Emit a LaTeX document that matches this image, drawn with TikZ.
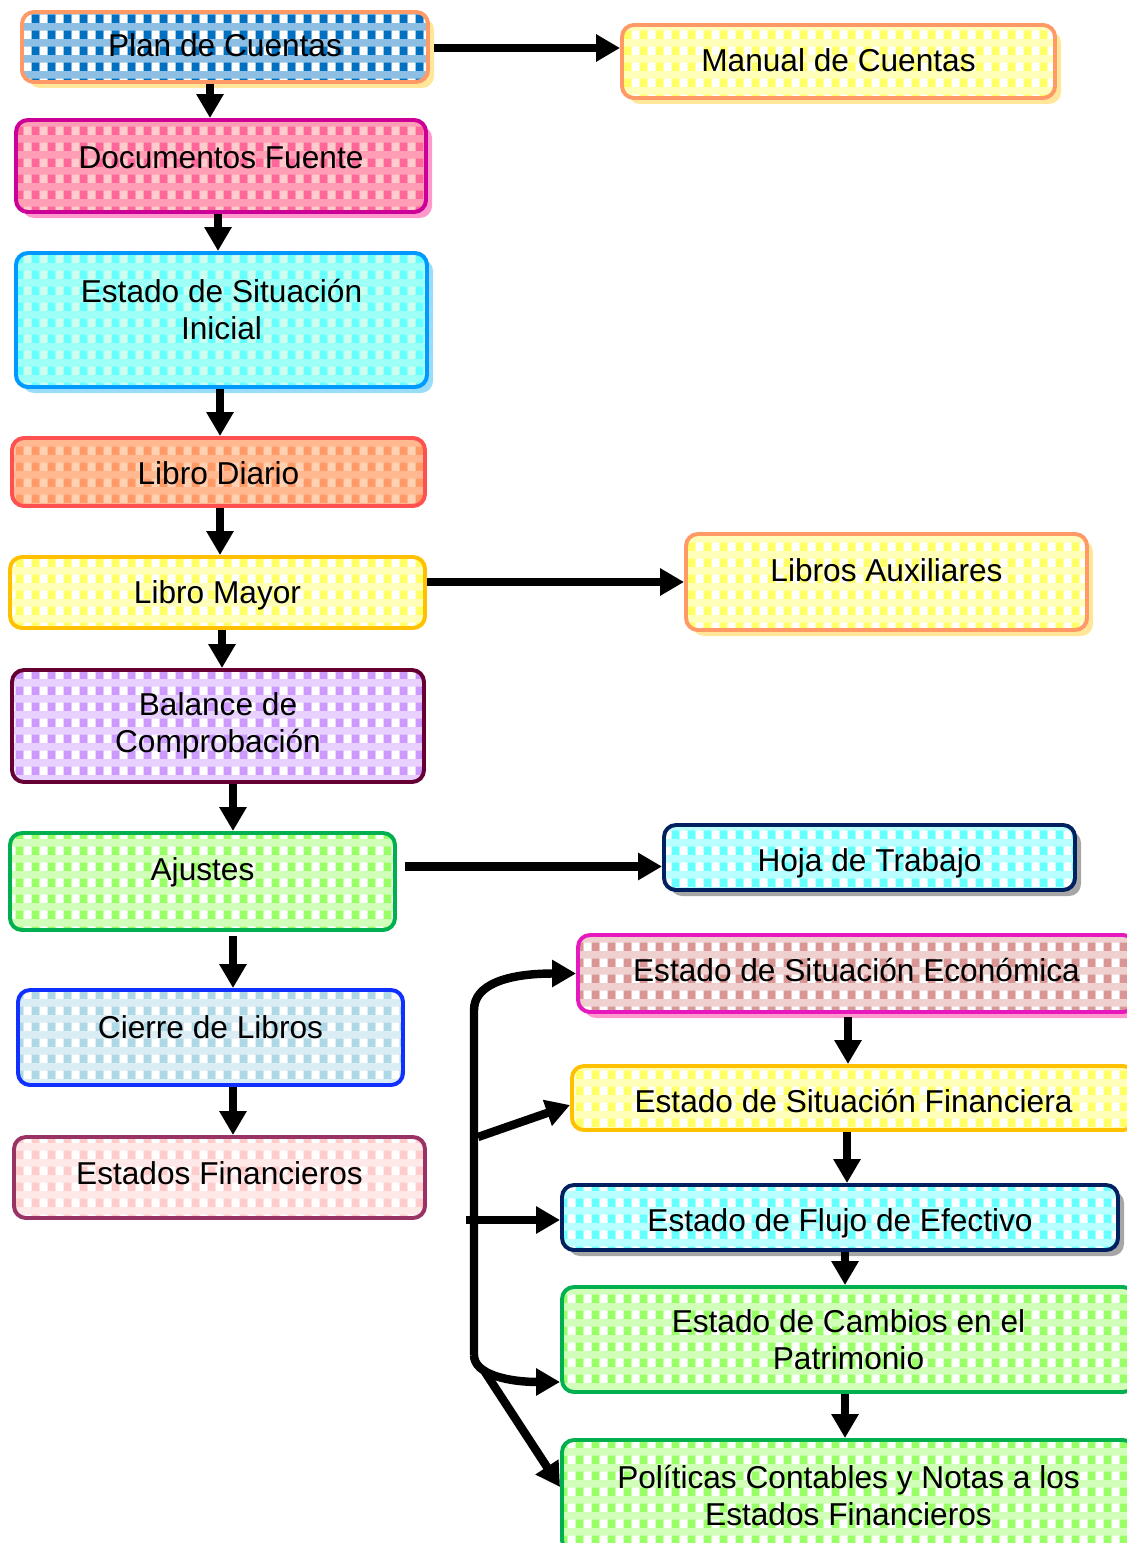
\documentclass[tikz,border=0pt]{standalone}
\usepackage{fontspec}
\setmainfont{Liberation Sans}
\usetikzlibrary{arrows.meta, calc, shadows, patterns.meta}
\definecolor{planblue}{RGB}{0,112,192}
\definecolor{orangeline}{RGB}{255,153,102}
\definecolor{lemon}{RGB}{255,255,102}
\definecolor{shadowyel}{RGB}{255,230,153}
\definecolor{docpink}{RGB}{255,102,153}
\definecolor{blush}{RGB}{255,204,204}
\definecolor{docline}{RGB}{204,0,153}
\definecolor{shadowpink}{RGB}{255,153,204}
\definecolor{aqua}{RGB}{102,255,255}
\definecolor{mint}{RGB}{204,255,238}
\definecolor{esiline}{RGB}{0,153,255}
\definecolor{shadowblue}{RGB}{153,221,248}
\definecolor{salmon}{RGB}{255,153,102}
\definecolor{peach}{RGB}{255,209,179}
\definecolor{diarioline}{RGB}{255,80,80}
\definecolor{gold}{RGB}{255,192,0}
\definecolor{lilac}{RGB}{204,153,255}
\definecolor{maroon}{RGB}{102,0,51}
\definecolor{lime}{RGB}{153,255,102}
\definecolor{leaf}{RGB}{0,176,80}
\definecolor{navy}{RGB}{0,32,96}
\definecolor{shadowgray}{RGB}{166,166,166}
\definecolor{skyblue}{RGB}{173,216,230}
\definecolor{royal}{RGB}{16,48,255}
\definecolor{plum}{RGB}{153,51,102}
\definecolor{rose}{RGB}{217,150,148}
\definecolor{fuchsia}{RGB}{230,25,190}
\newdimen\pxunit \pxunit=0.025cm
\pgfdeclarepattern{
  name=ginghamdark, type=uncolored,
  bottom left={\pgfpointorigin}, top right={\pgfpoint{0.4cm}{0.4cm}},
  tile size={\pgfpoint{0.4cm}{0.4cm}},
  code={\pgfpathrectangle{\pgfpointorigin}{\pgfpoint{0.2cm}{0.22cm}}\pgfusepath{fill}}
}
\pgfdeclarepattern{
  name=ginghamlight, type=uncolored,
  bottom left={\pgfpointorigin}, top right={\pgfpoint{0.4cm}{0.4cm}},
  tile size={\pgfpoint{0.4cm}{0.4cm}},
  code={\pgfpathrectangle{\pgfpoint{0.2cm}{0cm}}{\pgfpoint{0.2cm}{0.22cm}}\pgfusepath{fill}}
}
\tikzset{
  lift/.store in=\boxlift,
  sink/.store in=\boxsink,
  flowbox/.style n args={3}{
    rectangle, rounded corners=0.3cm, line width=2.8pt, align=center, lift=0, sink=0,
    fill=#1!45!#2,
    postaction={pattern=ginghamdark, pattern color=#1},
    postaction={pattern=ginghamlight, pattern color=#2},
    postaction={draw=#3},
    execute at begin node={\vrule width 0pt height \dimexpr0.72em+\boxsink\pxunit\relax depth 0pt},
    execute at end node={\vrule width 0pt height 0pt depth \dimexpr0.21em+\boxlift\pxunit\relax}
  },
  boxsize/.style 2 args={minimum width=#1\pxunit, minimum height=#2\pxunit},
  shade on/.style={drop shadow={fill=#1, opacity=1, shadow xshift=0.15cm, shadow yshift=-0.15cm}},
  flowarrow/.style={line width=6pt, -{Triangle[length=0.6cm, width=0.65cm]}}
}

\begin{document}
\begin{tikzpicture}[
    x=0.025cm, y=0.025cm,
    font=\fontsize{22.5pt}{26.5pt}\selectfont
  ]
  \useasboundingbox (0,0) rectangle (1126,-1543);

  % --- main column -------------------------------------------------------
  \node[flowbox={planblue}{white}{orangeline}, shade on=shadowyel, boxsize={406}{70}, sink=2] (Plan) at (225,-47) {Plan de Cuentas};
  \node[flowbox={docpink}{blush}{docline}, shade on=shadowpink, boxsize={410}{92}, lift=12] (Doc) at (221,-166) {Documentos Fuente};
  \node[flowbox={aqua}{mint}{esiline}, shade on=shadowblue, boxsize={411}{134}, lift=14] (ESI) at (221.5,-320) {Estado de Situación\\Inicial};
  \node[flowbox={salmon}{peach}{diarioline}, boxsize={413}{68}, sink=8] (Diario) at (218.5,-472) {Libro Diario};
  \node[flowbox={lemon}{white}{gold}, boxsize={415}{71}, sink=6] (Mayor) at (217.5,-592.5) {Libro Mayor};
  \node[flowbox={lilac}{white}{maroon}, boxsize={412}{112}, lift=-6] (Balance) at (218,-726) {Balance de\\Comprobación};
  \node[flowbox={lime}{white}{leaf}, boxsize={385}{97}, lift=19] (Ajustes) at (202.5,-881.5) {Ajustes};
  \node[flowbox={skyblue}{white}{royal}, boxsize={385}{95}, lift=15] (Cierre) at (210.5,-1037.5) {Cierre de Libros};
  \node[flowbox={blush}{white}{plum}, boxsize={411}{81}, lift=3] (EF) at (219.5,-1177.5) {Estados Financieros};

  % --- side boxes --------------------------------------------------------
  \node[flowbox={lemon}{white}{orangeline}, shade on=shadowyel, boxsize={433}{73}, sink=4] (Manual) at (838.5,-61.5) {Manual de Cuentas};
  \node[flowbox={lemon}{white}{orangeline}, shade on=shadowyel, boxsize={401}{96}, lift=18] (Aux) at (886.5,-582) {Libros Auxiliares};
  \node[flowbox={aqua}{white}{navy}, shade on=shadowgray, boxsize={411}{65}, lift=-6, sink=12] (Hoja) at (869.5,-857.5) {Hoja de Trabajo};

  % --- financial statements ----------------------------------------------
  \node[flowbox={rose}{white}{fuchsia}, shade on=shadowpink, boxsize={557}{77}] (Econ) at (856.5,-973.5) {Estado de Situación Económica};
  \node[flowbox={lemon}{white}{gold}, boxsize={563}{64}, lift=-6, sink=6] (Fin) at (853.5,-1098) {Estado de Situación Financiera};
  \node[flowbox={aqua}{white}{navy}, shade on=shadowgray, boxsize={556}{65}, lift=-6, sink=12] (Flujo) at (840,-1217.5) {Estado de Flujo de Efectivo};
  \node[flowbox={lime}{white}{leaf}, boxsize={573}{105}, lift=-6] (Cambios) at (848.5,-1339.5) {Estado de Cambios en el\\Patrimonio};
  \node[flowbox={lime}{white}{leaf}, boxsize={573}{112}, lift=-6] (Pol) at (848.5,-1496) {Políticas Contables y Notas a los\\Estados Financieros};

  % --- vertical flow -----------------------------------------------------
  \draw[flowarrow] ($(Plan.south)+(-15,0)$) coordinate (a1) -- (a1 |- Doc.north);
  \draw[flowarrow] ($(Doc.south)+(-3,0)$) coordinate (a2) -- (a2 |- ESI.north);
  \draw[flowarrow] ($(ESI.south)+(-1.5,0)$) coordinate (a3) -- (a3 |- Diario.north);
  \draw[flowarrow] ($(Diario.south)+(1.5,0)$) coordinate (a4) -- (a4 |- Mayor.north);
  \draw[flowarrow] ($(Mayor.south)+(4.5,0)$) coordinate (a5) -- (a5 |- Balance.north);
  \draw[flowarrow] ($(Balance.south)+(15,0)$) coordinate (a6) -- (a6 |- Ajustes.north);
  \draw[flowarrow] ($(Ajustes.south)+(30.5,-4)$) coordinate (a7) -- (a7 |- Cierre.north);
  \draw[flowarrow] ($(Cierre.south)+(22.5,0)$) coordinate (a8) -- (a8 |- EF.north);

  \draw[flowarrow] ($(Econ.south)+(-8.5,-3)$) coordinate (b1) -- (b1 |- Fin.north);
  \draw[flowarrow] ($(Fin.south)+(-6.5,0)$) coordinate (b2) -- (b2 |- Flujo.north);
  \draw[flowarrow] ($(Flujo.south)+(5,0)$) coordinate (b3) -- (b3 |- Cambios.north);
  \draw[flowarrow] ($(Cambios.south)+(-3.5,0)$) coordinate (b4) -- (b4 |- Pol.north);

  % --- side arrows -------------------------------------------------------
  \draw[flowarrow] ($(Plan.east)+(4,-1)$) coordinate (c1) -- (c1 -| Manual.west);
  \draw[flowarrow] (Aux.west -| Mayor.east) -- (Aux.west);
  \draw[flowarrow] ($(Ajustes.east)+(8,15)$) coordinate (c3) -- (c3 -| Hoja.west);

  % --- bracket feeding the statements -------------------------------------
  \coordinate (spinetop) at (474,-1010);
  \coordinate (spinebot) at (474,-1355);
  \coordinate (finstart) at (478,-1137);
  \coordinate (flowstart) at (466,-1220);
  \coordinate (polstart) at (485,-1372);
  \draw[flowarrow] (spinebot) -- (spinetop) .. controls +(0,25) and +(-70,0) .. (Econ.west);
  \draw[flowarrow] (spinebot) .. controls +(0,-20) and +(-50,0) .. ($(Cambios.south west)+(0,12)$);
  \draw[flowarrow] (finstart) -- ($(Fin.west)+(0,-7)$);
  \draw[flowarrow] (flowstart) -- (flowstart -| Flujo.west);
  \draw[flowarrow] (polstart) -- ($(Pol.west)+(0,9)$);

\end{tikzpicture}
\end{document}
